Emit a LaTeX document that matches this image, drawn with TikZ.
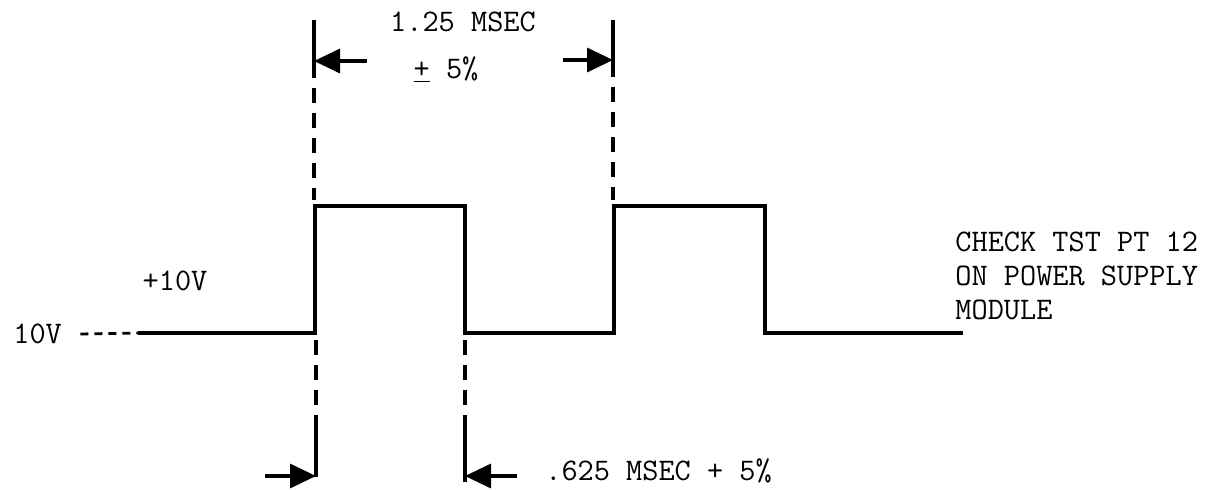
\documentclass[tikz,border=0pt]{standalone}
\usepackage{fontspec}
\usetikzlibrary{arrows.meta}

\begin{document}
\begin{tikzpicture}[
  x=0.5pt, y=-0.5pt,
  wave/.style={line width=1.9pt, line join=miter},
  solidguide/.style={line width=1.6pt},
  dashguide/.style={line width=1.6pt, dash pattern=on 7.5pt off 5pt},
  leaddash/.style={line width=1.4pt, dash pattern=on 4pt off 3pt},
  dimarrow/.style={line width=1.7pt, -{Triangle[length=13pt,width=12pt]}},
  lbl/.style={font=\ttfamily\fontsize{15.7}{17}\selectfont, inner sep=0pt}
]
\useasboundingbox (0,0) rectangle (1220,489);

% waveform
\coordinate (w0) at (138,333);
\coordinate (r1) at (315,333);
\coordinate (f1) at (465,333);
\coordinate (r2) at (614,333);
\coordinate (f2) at (765,333);
\coordinate (wend) at (963,333);
\draw[wave] (w0) -- (r1) -- ++(0,-127) -| (f1) -- (r2) -- ++(0,-127) -| (f2) -- (wend);

% labels
\node[lbl] (period) at (463,22) {1.25 MSEC};
\node[lbl] (tol) at (446,70) {\underline{+} 5\%};
\node[lbl] (plus) at (175,281) {+10V};
\node[lbl, anchor=west] (volt) at (13,334) {10V};
\node[lbl, anchor=west] (width) at (545,471) {.625 MSEC + 5\%};
\node[lbl, anchor=west, align=left] (check) at (955,276) {CHECK TST PT 12\\ON POWER SUPPLY\\MODULE};

\draw[leaddash] ([xshift=9pt]volt.east) -- (w0);

% upper guides
\coordinate (ua1) at (314,20);
\coordinate (ub1) at (314,63);
\coordinate (uc1) at (314,200);
\coordinate (ua2) at (613,20);
\coordinate (ub2) at (613,62);
\coordinate (uc2) at (613,200);
\draw[solidguide] (ua1) -- (ub1);
\draw[dashguide] (ub1) -- (uc1);
\draw[solidguide] (ua2) -- (ub2);
\draw[dashguide] (ub2) -- (uc2);

% lower guides
\coordinate (la1) at (316,340);
\coordinate (lb1) at (316,427);
\coordinate (lc1) at (316,477);
\coordinate (la2) at (465,340);
\coordinate (lb2) at (465,427);
\coordinate (lc2) at (465,482);
\draw[dashguide] (la1) -- (lb1);
\draw[solidguide] (lb1) -- (lc1);
\draw[dashguide] (la2) -- (lb2);
\draw[solidguide] (lb2) -- (lc2);

% dimension arrows
\coordinate (t1) at (367,61);
\coordinate (t2) at (563,60);
\coordinate (b1) at (265,476);
\coordinate (b2) at (517,476);
\draw[dimarrow] (t1) -- (ub1 |- t1);
\draw[dimarrow] (t2) -- (ub2 |- t2);
\draw[dimarrow] (b1) -- (lc1 |- b1);
\draw[dimarrow] (b2) -- (lc2 |- b2);
\end{tikzpicture}
\end{document}
